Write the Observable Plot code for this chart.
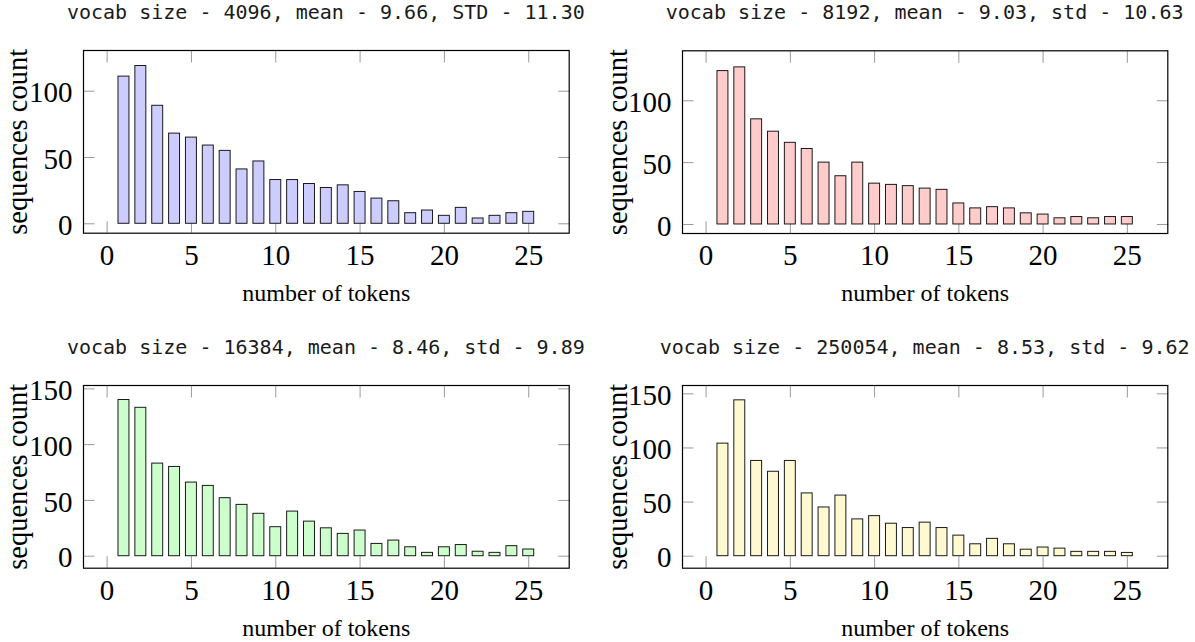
<!DOCTYPE html>
<html><head><meta charset="utf-8">
<script src="https://cdn.jsdelivr.net/npm/d3@7"></script>
<script src="https://cdn.jsdelivr.net/npm/@observablehq/plot@0.6"></script>
<style>
html,body{margin:0;padding:0;background:#fff;}
#root{position:relative;width:1195px;height:642px;overflow:hidden;background:#fff;}
.title{position:absolute;width:600px;font-family:"DejaVu Sans Mono",monospace;font-size:20px;line-height:20px;color:#1a1a1a;text-align:center;white-space:nowrap;}
.panel{position:absolute;}
.panel svg{display:block;}
</style></head><body><div id="root"></div>
<script>
// ---- data ----
const tokens = [1,2,3,4,5,6,7,8,9,10,11,12,13,14,15,16,17,18,19,20,21,22,23,24,25];
const counts4096   = [111,119,89,68,65,59,55,41,47,33,33,30,27,29,24,19,17,8,10,6,12,4,6,8,9];
const counts8192   = [124,127,85,75,66,61,50,39,50,33,32,31,29,28,17,13,14,13,9,8,5,6,5,6,6];
const counts16384  = [140,133,83,80,66,63,52,46,38,26,40,31,25,20,23,11,14,8,3,8,10,4,3,9,6];
const counts250054 = [104,144,88,78,88,58,45,56,34,37,30,26,31,26,19,11,16,11,6,8,7,4,4,4,3];
const titles = [
  "vocab size - 4096, mean - 9.66, STD - 11.30",
  "vocab size - 8192, mean - 9.03, std - 10.63",
  "vocab size - 16384, mean - 8.46, std - 9.89",
  "vocab size - 250054, mean - 8.53, std - 9.62"
];
const xTicks = [0,5,10,15,20,25];
const yTicksTop = [0,50,100];
const yTicksBottom = [0,50,100,150];
const xLabel = "number of tokens";
const yLabel = "sequences count";

// ---- layout / style ----
const fills = ["#ccccff","#ffcccc","#ccffcc","#fff9d2"];
const panels = [
  {values: counts4096,   title: titles[0], fill: fills[0], yticks: yTicksTop,    ydomain: [-7.1,130.7],  left:0,   top:30,  width:600, height:290, ml:83, mr:31.3, mt:20,   mb:87.3, titleTop:2.4,   ylDx:-66},
  {values: counts8192,   title: titles[1], fill: fills[1], yticks: yTicksTop,    ydomain: [-7.3,140.4],  left:600, top:30,  width:595, height:290, ml:82, mr:27.7, mt:20.3, mb:87,   titleTop:2.4,   ylDx:-65},
  {values: counts16384,  title: titles[2], fill: fills[2], yticks: yTicksBottom, ydomain: [-10.75,153],  left:0,   top:355, width:600, height:287, ml:83, mr:31.3, mt:30,   mb:74.3, titleTop:337.4, ylDx:-66},
  {values: counts250054, title: titles[3], fill: fills[3], yticks: yTicksBottom, ydomain: [-11.1,157.7], left:600, top:355, width:595, height:287, ml:82, mr:27.7, mt:30,   mb:74.3, titleTop:337.4, ylDx:-65}
];
const serif = "'Liberation Serif','Times New Roman',serif";
const root = document.getElementById("root");

for (const cfg of panels) {
  const data = tokens.map((t, i) => ({t, v: cfg.values[i]}));
  const bw = 0.65;
  const tick = {stroke: "#9a9a9a", strokeWidth: 1, fill: "none", label: null, tickSize: 11.5};
  const svg = Plot.plot({
    width: cfg.width, height: cfg.height,
    marginLeft: cfg.ml, marginRight: cfg.mr, marginTop: cfg.mt, marginBottom: cfg.mb,
    style: {fontFamily: serif, fontSize: "29px", background: "white", color: "black", overflow: "visible"},
    x: {domain: [-1.4, 27.4]},
    y: {domain: cfg.ydomain},
    marks: [
      Plot.axisY({ticks: cfg.yticks, anchor: "left", ...tick, dx: 11.5}),
      Plot.axisY({ticks: cfg.yticks, anchor: "right", ...tick, dx: -11.5}),
      Plot.axisX({ticks: xTicks, anchor: "bottom", ...tick, dy: -11.5}),
      Plot.axisX({ticks: xTicks, anchor: "top", ...tick, dy: 11.5}),
      Plot.rectY(data, {x1: d => d.t - bw / 2, x2: d => d.t + bw / 2, y1: 0, y2: "v", fill: cfg.fill, stroke: "#1a1a1a", strokeWidth: 1}),
      Plot.axisY({ticks: cfg.yticks, anchor: "left", tickSize: 0, tickPadding: 11, fontSize: 29, label: null, dy: 2, fill: "black"}),
      Plot.axisX({ticks: xTicks, anchor: "bottom", tickSize: 0, tickPadding: 11, fontSize: 29, label: null, fill: "black"}),
      Plot.text([yLabel], {text: d => d, frameAnchor: "left", textAnchor: "middle", lineAnchor: "middle", rotate: -90, dx: cfg.ylDx, fontSize: 28.5, fill: "black"}),
      Plot.text([xLabel], {text: d => d, frameAnchor: "bottom", textAnchor: "middle", lineAnchor: "middle", dy: 60, fontSize: 24, fill: "black"}),
      Plot.frame({stroke: "black", strokeWidth: 1.2})
    ]
  });
  const div = document.createElement("div");
  div.className = "panel";
  div.style.left = cfg.left + "px";
  div.style.top = cfg.top + "px";
  div.appendChild(svg);
  root.appendChild(div);

  const t = document.createElement("div");
  t.className = "title";
  const center = cfg.left + cfg.ml + (cfg.width - cfg.ml - cfg.mr) / 2;
  t.style.left = (center - 300) + "px";
  t.style.top = cfg.titleTop + "px";
  t.textContent = cfg.title;
  root.appendChild(t);
}
</script>
</body></html>
